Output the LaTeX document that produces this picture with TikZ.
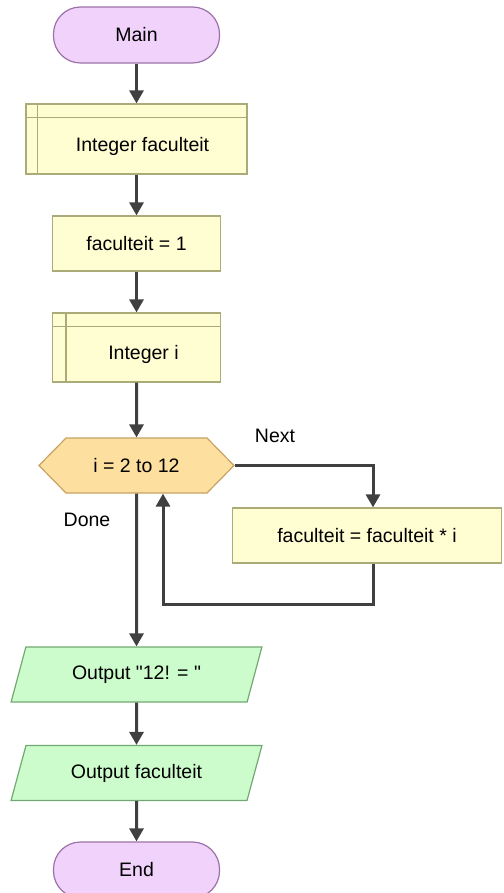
\documentclass[tikz,border=0pt]{standalone}
\usepackage{fontspec}
\setmainfont{Liberation Sans}
\usetikzlibrary{arrows.meta,shapes.geometric,shapes.symbols}

\definecolor{termfill}{HTML}{F0D2FB}
\definecolor{termline}{HTML}{9C72A8}
\definecolor{procfill}{HTML}{FFFDD2}
\definecolor{procline}{HTML}{ABAB7A}
\definecolor{loopfill}{HTML}{FDDFA0}
\definecolor{loopline}{HTML}{C8A264}
\definecolor{iofill}{HTML}{CCFCCC}
\definecolor{ioline}{HTML}{72A872}
\definecolor{flow}{HTML}{404040}

\tikzset{
  every node/.style={font=\fontsize{19.5}{23}\selectfont, inner sep=0pt},
  terminal/.style={draw=termline, fill=termfill, line width=1.2pt,
    rounded corners=27pt, minimum width=166pt, minimum height=56pt},
  procbox/.style={draw=procline, fill=procfill, line width=1.2pt,
    minimum height=55pt},
  loophex/.style={draw=loopline, fill=loopfill, line width=1.2pt,
    signal, signal to=west and east, signal pointer angle=91,
    minimum width=195pt, minimum height=55pt},
  iobox/.style={draw=ioline, fill=iofill, line width=1.2pt,
    trapezium, trapezium left angle=64, trapezium right angle=116,
    trapezium stretches=true, minimum width=251pt, minimum height=55pt},
  flowline/.style={draw=flow, line width=3pt,
    -{Triangle[width=14pt,length=13pt]}}
}

\begin{document}
\begin{tikzpicture}[x=1pt, y=-1pt]

\useasboundingbox (0,0) rectangle (503,893);

%% Start
\node [terminal] (main) at (136.5,35) {Main};

%% Declaration faculteit
\node [procbox, minimum width=221pt, minimum height=70pt,
  label={[xshift=6pt, yshift=-7pt]center:Integer faculteit}] (intf) at (136.5,139) {};
\draw [procline, line width=1.2pt] ([yshift=-14pt]intf.north west) -- ([yshift=-14pt]intf.north east);
\draw [procline, line width=1.2pt] ([xshift=12pt]intf.north west) -- ([xshift=12pt]intf.south west);

%% Assignment
\node [procbox, minimum width=168pt] (fac1) at (136.5,243.5) {faculteit = 1};

%% Declaration i
\node [procbox, minimum width=168pt, minimum height=69pt,
  label={[xshift=7pt, yshift=-7pt]center:Integer i}] (inti) at (136.5,347.5) {};
\draw [procline, line width=1.2pt] ([yshift=-14pt]inti.north west) -- ([yshift=-14pt]inti.north east);
\draw [procline, line width=1.2pt] ([xshift=14pt]inti.north west) -- ([xshift=14pt]inti.south west);

%% For loop
\node [loophex] (loop) at (136.5,465.5) {i = 2 to 12};
\node (next) at (275,436) {Next};
\node (done) at (87,520) {Done};

%% Loop body
\node [procbox, minimum width=269pt] (body) at (367,535.5) {faculteit = faculteit * i};
\coordinate (nextc) at (373,465.5);
\coordinate (backc) at (163,604);

%% Output
\node [iobox] (out1) at (136.5,674.5) {Output \textquotedbl 12! = \textquotedbl};
\node [iobox] (out2) at (136.5,773) {Output faculteit};

%% Stop
\node [terminal] (end) at (136.5,870) {End};

%% Flow
\draw [flowline] (main) -- (intf);
\draw [flowline] (intf) -- (fac1);
\draw [flowline] (fac1) -- (inti);
\draw [flowline] (inti) -- (loop);
\draw [flowline] (loop.east) -- (nextc) -- (nextc |- body.north);
\draw [flowline] (nextc |- body.south) |- (backc) -- (backc |- loop.south);
\draw [flowline] (loop) -- (out1);
\draw [flowline] (out1) -- (out2);
\draw [flowline] (out2) -- (end);

\end{tikzpicture}
\end{document}
